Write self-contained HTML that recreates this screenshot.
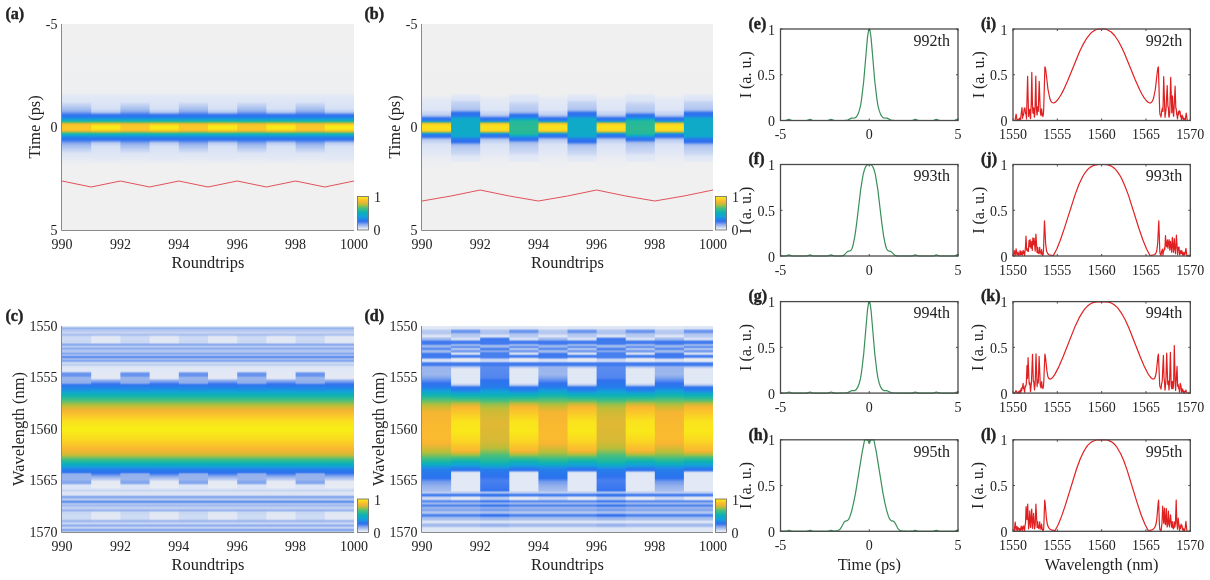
<!DOCTYPE html>
<html><head><meta charset="utf-8"><style>
html,body{margin:0;padding:0;background:#fff;}
svg{display:block;font-family:'Liberation Serif', serif;filter:blur(0.35px);}
</style></head><body>
<svg width="1210" height="580" viewBox="0 0 1210 580">
<defs><linearGradient id="g1" x1="0" y1="0" x2="0" y2="1"><stop offset="0.0024" stop-color="#f0f0f0"/><stop offset="0.3325" stop-color="#eeeff1"/><stop offset="0.3519" stop-color="#e2e8f5"/><stop offset="0.4102" stop-color="#d7e1f5"/><stop offset="0.4248" stop-color="#bccef1"/><stop offset="0.4296" stop-color="#a3bcef"/><stop offset="0.4393" stop-color="#4e84ef"/><stop offset="0.4442" stop-color="#3275ef"/><stop offset="0.4490" stop-color="#2977ed"/><stop offset="0.4587" stop-color="#1b93e1"/><stop offset="0.4636" stop-color="#12a3d2"/><stop offset="0.4684" stop-color="#13aeba"/><stop offset="0.4733" stop-color="#35b893"/><stop offset="0.4782" stop-color="#84bd5d"/><stop offset="0.4830" stop-color="#d6be37"/><stop offset="0.4879" stop-color="#f6cd27"/><stop offset="0.4927" stop-color="#f9e11d"/><stop offset="0.5024" stop-color="#f8ed16"/><stop offset="0.5121" stop-color="#f9e11d"/><stop offset="0.5170" stop-color="#f6cd27"/><stop offset="0.5218" stop-color="#d6be37"/><stop offset="0.5267" stop-color="#84bd5d"/><stop offset="0.5316" stop-color="#35b893"/><stop offset="0.5364" stop-color="#13aeba"/><stop offset="0.5413" stop-color="#12a3d2"/><stop offset="0.5510" stop-color="#2481e9"/><stop offset="0.5558" stop-color="#2977ed"/><stop offset="0.5607" stop-color="#3275ef"/><stop offset="0.5655" stop-color="#4e84ef"/><stop offset="0.5752" stop-color="#a3bcef"/><stop offset="0.5801" stop-color="#bccef1"/><stop offset="0.5947" stop-color="#d7e1f5"/><stop offset="0.6626" stop-color="#e5eaf4"/><stop offset="0.6820" stop-color="#f0f0f0"/><stop offset="0.9976" stop-color="#f0f0f0"/></linearGradient><linearGradient id="g2" x1="0" y1="0" x2="0" y2="1"><stop offset="0.0024" stop-color="#f0f0f0"/><stop offset="0.3325" stop-color="#eeeff1"/><stop offset="0.3519" stop-color="#e2e8f5"/><stop offset="0.3762" stop-color="#dce5f6"/><stop offset="0.4150" stop-color="#a3bcee"/><stop offset="0.4248" stop-color="#89aaed"/><stop offset="0.4393" stop-color="#407bef"/><stop offset="0.4442" stop-color="#2f74ef"/><stop offset="0.4539" stop-color="#2481e9"/><stop offset="0.4636" stop-color="#12a3d2"/><stop offset="0.4684" stop-color="#13aebb"/><stop offset="0.4733" stop-color="#2eb898"/><stop offset="0.4782" stop-color="#75bd66"/><stop offset="0.4830" stop-color="#cabb3d"/><stop offset="0.4879" stop-color="#f3be2f"/><stop offset="0.4976" stop-color="#fac928"/><stop offset="0.5121" stop-color="#fac52a"/><stop offset="0.5170" stop-color="#f3be2f"/><stop offset="0.5218" stop-color="#cabb3d"/><stop offset="0.5267" stop-color="#75bd66"/><stop offset="0.5316" stop-color="#2eb898"/><stop offset="0.5364" stop-color="#13aebb"/><stop offset="0.5413" stop-color="#12a3d2"/><stop offset="0.5510" stop-color="#2481e9"/><stop offset="0.5607" stop-color="#2f74ef"/><stop offset="0.5655" stop-color="#407bef"/><stop offset="0.5801" stop-color="#89aaed"/><stop offset="0.5898" stop-color="#a3bcee"/><stop offset="0.6286" stop-color="#dce5f6"/><stop offset="0.6675" stop-color="#eaedf2"/><stop offset="0.6917" stop-color="#f0f0f0"/><stop offset="0.9976" stop-color="#f0f0f0"/></linearGradient><linearGradient id="g3" x1="0" y1="0" x2="0" y2="1"><stop offset="0.0024" stop-color="#f0f0f0"/><stop offset="0.3422" stop-color="#efeff0"/><stop offset="0.3665" stop-color="#e4e9f4"/><stop offset="0.4150" stop-color="#dde5f6"/><stop offset="0.4345" stop-color="#c7d5f3"/><stop offset="0.4393" stop-color="#bdcef1"/><stop offset="0.4442" stop-color="#a9c0ef"/><stop offset="0.4490" stop-color="#84a7ee"/><stop offset="0.4539" stop-color="#5689ee"/><stop offset="0.4587" stop-color="#3476ef"/><stop offset="0.4636" stop-color="#2977ed"/><stop offset="0.4684" stop-color="#2383e6"/><stop offset="0.4733" stop-color="#289fc3"/><stop offset="0.4782" stop-color="#77b773"/><stop offset="0.4830" stop-color="#dcc237"/><stop offset="0.4879" stop-color="#f8d225"/><stop offset="0.4976" stop-color="#fae21d"/><stop offset="0.5121" stop-color="#fadd20"/><stop offset="0.5170" stop-color="#f8d225"/><stop offset="0.5218" stop-color="#dcc237"/><stop offset="0.5267" stop-color="#77b773"/><stop offset="0.5316" stop-color="#289fc3"/><stop offset="0.5364" stop-color="#2383e6"/><stop offset="0.5413" stop-color="#2977ed"/><stop offset="0.5461" stop-color="#3476ef"/><stop offset="0.5510" stop-color="#5689ee"/><stop offset="0.5558" stop-color="#84a7ee"/><stop offset="0.5607" stop-color="#a9c0ef"/><stop offset="0.5655" stop-color="#bdcef1"/><stop offset="0.5850" stop-color="#dae3f5"/><stop offset="0.6335" stop-color="#e4e9f4"/><stop offset="0.6578" stop-color="#ebedf2"/><stop offset="0.7063" stop-color="#f0f0f0"/><stop offset="0.9976" stop-color="#f0f0f0"/></linearGradient><linearGradient id="g4" x1="0" y1="0" x2="0" y2="1"><stop offset="0.0024" stop-color="#f0f0f0"/><stop offset="0.3325" stop-color="#efeff0"/><stop offset="0.3519" stop-color="#e0e7f5"/><stop offset="0.3665" stop-color="#dce4f6"/><stop offset="0.3811" stop-color="#c5d4f3"/><stop offset="0.4102" stop-color="#b3c7f0"/><stop offset="0.4150" stop-color="#a8bfef"/><stop offset="0.4199" stop-color="#93b1ed"/><stop offset="0.4296" stop-color="#427cef"/><stop offset="0.4345" stop-color="#2e71ef"/><stop offset="0.4442" stop-color="#2977ed"/><stop offset="0.4587" stop-color="#12a4d3"/><stop offset="0.4684" stop-color="#0faac7"/><stop offset="0.5364" stop-color="#0faac7"/><stop offset="0.5461" stop-color="#12a4d3"/><stop offset="0.5607" stop-color="#2977ed"/><stop offset="0.5704" stop-color="#2e71ef"/><stop offset="0.5752" stop-color="#427cef"/><stop offset="0.5850" stop-color="#93b1ed"/><stop offset="0.5898" stop-color="#a8bfef"/><stop offset="0.5995" stop-color="#b7caf1"/><stop offset="0.6286" stop-color="#cad8f3"/><stop offset="0.6432" stop-color="#dfe6f6"/><stop offset="0.6626" stop-color="#e4e9f4"/><stop offset="0.6772" stop-color="#f0f0f0"/><stop offset="0.9976" stop-color="#f0f0f0"/></linearGradient><linearGradient id="g5" x1="0" y1="0" x2="0" y2="1"><stop offset="0.0024" stop-color="#f0f0f0"/><stop offset="0.3325" stop-color="#efeff0"/><stop offset="0.3519" stop-color="#e0e7f5"/><stop offset="0.3714" stop-color="#dce5f6"/><stop offset="0.3908" stop-color="#c4d3f2"/><stop offset="0.4199" stop-color="#b3c7f0"/><stop offset="0.4248" stop-color="#a9c0ef"/><stop offset="0.4296" stop-color="#95b2ed"/><stop offset="0.4393" stop-color="#447eef"/><stop offset="0.4442" stop-color="#2d74ee"/><stop offset="0.4539" stop-color="#2284e8"/><stop offset="0.4587" stop-color="#1799da"/><stop offset="0.4636" stop-color="#11aac4"/><stop offset="0.4684" stop-color="#18b4ab"/><stop offset="0.4733" stop-color="#24b89c"/><stop offset="0.5073" stop-color="#2dba93"/><stop offset="0.5316" stop-color="#24b89c"/><stop offset="0.5364" stop-color="#18b4ab"/><stop offset="0.5413" stop-color="#11aac4"/><stop offset="0.5461" stop-color="#1799da"/><stop offset="0.5510" stop-color="#2284e8"/><stop offset="0.5607" stop-color="#2d74ee"/><stop offset="0.5655" stop-color="#447eef"/><stop offset="0.5752" stop-color="#95b2ed"/><stop offset="0.5801" stop-color="#a9c0ef"/><stop offset="0.5898" stop-color="#b7caf1"/><stop offset="0.6238" stop-color="#cdd9f4"/><stop offset="0.6383" stop-color="#dfe6f6"/><stop offset="0.6626" stop-color="#e4e9f4"/><stop offset="0.6772" stop-color="#f0f0f0"/><stop offset="0.9976" stop-color="#f0f0f0"/></linearGradient><linearGradient id="g6" x1="0" y1="0" x2="0" y2="1"><stop offset="0.0024" stop-color="#dde4f3"/><stop offset="0.0073" stop-color="#b0c5f0"/><stop offset="0.0121" stop-color="#98b4ef"/><stop offset="0.0170" stop-color="#adc3f0"/><stop offset="0.0316" stop-color="#c4d3f2"/><stop offset="0.0364" stop-color="#becff1"/><stop offset="0.0413" stop-color="#aac1ef"/><stop offset="0.0461" stop-color="#b1c5f0"/><stop offset="0.0510" stop-color="#c6d5f3"/><stop offset="0.0607" stop-color="#cedbf4"/><stop offset="0.0801" stop-color="#c9d7f3"/><stop offset="0.0898" stop-color="#88aaee"/><stop offset="0.0947" stop-color="#9bb6ef"/><stop offset="0.0995" stop-color="#b7caf1"/><stop offset="0.1044" stop-color="#a6beef"/><stop offset="0.1092" stop-color="#8dadee"/><stop offset="0.1189" stop-color="#b1c6f0"/><stop offset="0.1238" stop-color="#b2c7f0"/><stop offset="0.1286" stop-color="#9fbaef"/><stop offset="0.1335" stop-color="#83a6ee"/><stop offset="0.1383" stop-color="#99b6ef"/><stop offset="0.1432" stop-color="#9eb9f0"/><stop offset="0.1481" stop-color="#6895ef"/><stop offset="0.1529" stop-color="#6391ef"/><stop offset="0.1578" stop-color="#94b2ef"/><stop offset="0.1626" stop-color="#9eb8ee"/><stop offset="0.1675" stop-color="#83a6ee"/><stop offset="0.1723" stop-color="#94b2ef"/><stop offset="0.1772" stop-color="#c1d1f2"/><stop offset="0.1820" stop-color="#cad8f3"/><stop offset="0.1869" stop-color="#c0d0f2"/><stop offset="0.1917" stop-color="#c5d4f2"/><stop offset="0.1966" stop-color="#d9e2f5"/><stop offset="0.2063" stop-color="#e0e7f5"/><stop offset="0.2160" stop-color="#dfe6f5"/><stop offset="0.2209" stop-color="#cfdbf4"/><stop offset="0.2257" stop-color="#98b5f0"/><stop offset="0.2306" stop-color="#6e98ee"/><stop offset="0.2354" stop-color="#6693ee"/><stop offset="0.2403" stop-color="#6995ee"/><stop offset="0.2451" stop-color="#7aa0ed"/><stop offset="0.2500" stop-color="#93b1ed"/><stop offset="0.2549" stop-color="#9bb6ed"/><stop offset="0.2743" stop-color="#91afec"/><stop offset="0.2791" stop-color="#749ced"/><stop offset="0.2840" stop-color="#4781ee"/><stop offset="0.2888" stop-color="#2d77ee"/><stop offset="0.3083" stop-color="#1c8fe4"/><stop offset="0.3228" stop-color="#11a6cf"/><stop offset="0.3374" stop-color="#0fb2b1"/><stop offset="0.3617" stop-color="#4bbf7b"/><stop offset="0.3811" stop-color="#a7be42"/><stop offset="0.3908" stop-color="#c6bc36"/><stop offset="0.4102" stop-color="#f4b532"/><stop offset="0.4296" stop-color="#fac22c"/><stop offset="0.4636" stop-color="#fae01f"/><stop offset="0.5024" stop-color="#f8ef15"/><stop offset="0.5510" stop-color="#fad921"/><stop offset="0.5947" stop-color="#fab830"/><stop offset="0.6141" stop-color="#e4b734"/><stop offset="0.6238" stop-color="#cfbb36"/><stop offset="0.6286" stop-color="#bbbd3a"/><stop offset="0.6383" stop-color="#80bf5a"/><stop offset="0.6481" stop-color="#43be82"/><stop offset="0.6626" stop-color="#16b5a9"/><stop offset="0.6723" stop-color="#0dadc0"/><stop offset="0.6869" stop-color="#1799df"/><stop offset="0.6966" stop-color="#257fea"/><stop offset="0.7063" stop-color="#2a77ed"/><stop offset="0.7112" stop-color="#3b7dee"/><stop offset="0.7160" stop-color="#729ced"/><stop offset="0.7209" stop-color="#93b0ec"/><stop offset="0.7451" stop-color="#9ab5ed"/><stop offset="0.7549" stop-color="#84a7ed"/><stop offset="0.7597" stop-color="#83a6ed"/><stop offset="0.7646" stop-color="#90afee"/><stop offset="0.7694" stop-color="#bdcff2"/><stop offset="0.7743" stop-color="#dbe4f6"/><stop offset="0.7888" stop-color="#dce5f6"/><stop offset="0.7985" stop-color="#c7d5f3"/><stop offset="0.8083" stop-color="#dde5f5"/><stop offset="0.8180" stop-color="#dce4f5"/><stop offset="0.8228" stop-color="#becff2"/><stop offset="0.8277" stop-color="#8dadee"/><stop offset="0.8325" stop-color="#87a9ee"/><stop offset="0.8374" stop-color="#a9c0f0"/><stop offset="0.8422" stop-color="#b8cbf1"/><stop offset="0.8471" stop-color="#93b2ef"/><stop offset="0.8519" stop-color="#6593ee"/><stop offset="0.8568" stop-color="#739cee"/><stop offset="0.8617" stop-color="#a6bef0"/><stop offset="0.8665" stop-color="#aec4f0"/><stop offset="0.8714" stop-color="#a2bbee"/><stop offset="0.8811" stop-color="#c0d0f2"/><stop offset="0.8859" stop-color="#becff2"/><stop offset="0.8956" stop-color="#97b3ed"/><stop offset="0.9053" stop-color="#c8d6f3"/><stop offset="0.9199" stop-color="#cedbf4"/><stop offset="0.9345" stop-color="#cddaf4"/><stop offset="0.9393" stop-color="#bfd0f2"/><stop offset="0.9442" stop-color="#a5bdee"/><stop offset="0.9490" stop-color="#a2bbee"/><stop offset="0.9539" stop-color="#baccf1"/><stop offset="0.9587" stop-color="#c8d6f3"/><stop offset="0.9684" stop-color="#8eadee"/><stop offset="0.9733" stop-color="#a6bef0"/><stop offset="0.9782" stop-color="#c5d4f3"/><stop offset="0.9830" stop-color="#b6c9f2"/><stop offset="0.9879" stop-color="#87a9ef"/><stop offset="0.9927" stop-color="#8aabee"/><stop offset="0.9976" stop-color="#b3c7f1"/></linearGradient><linearGradient id="g7" x1="0" y1="0" x2="0" y2="1"><stop offset="0.0024" stop-color="#dde4f3"/><stop offset="0.0073" stop-color="#b0c5f0"/><stop offset="0.0121" stop-color="#98b4ef"/><stop offset="0.0170" stop-color="#adc3f0"/><stop offset="0.0316" stop-color="#c4d3f2"/><stop offset="0.0364" stop-color="#becff2"/><stop offset="0.0413" stop-color="#abc1ef"/><stop offset="0.0461" stop-color="#b9cbf0"/><stop offset="0.0510" stop-color="#d8e1f4"/><stop offset="0.0558" stop-color="#e2e8f4"/><stop offset="0.0752" stop-color="#e3e9f4"/><stop offset="0.0801" stop-color="#dde4f4"/><stop offset="0.0898" stop-color="#8babee"/><stop offset="0.0947" stop-color="#9bb6ef"/><stop offset="0.0995" stop-color="#b7caf1"/><stop offset="0.1044" stop-color="#a6beef"/><stop offset="0.1092" stop-color="#8dadee"/><stop offset="0.1189" stop-color="#b1c6f0"/><stop offset="0.1238" stop-color="#b2c7f0"/><stop offset="0.1286" stop-color="#9fbaef"/><stop offset="0.1335" stop-color="#83a6ee"/><stop offset="0.1383" stop-color="#99b6ef"/><stop offset="0.1432" stop-color="#9eb9f0"/><stop offset="0.1481" stop-color="#6895ef"/><stop offset="0.1529" stop-color="#6391ef"/><stop offset="0.1578" stop-color="#94b2ef"/><stop offset="0.1626" stop-color="#9eb8ee"/><stop offset="0.1675" stop-color="#83a6ee"/><stop offset="0.1723" stop-color="#94b2ef"/><stop offset="0.1772" stop-color="#c1d1f2"/><stop offset="0.1820" stop-color="#cad8f3"/><stop offset="0.1869" stop-color="#c0d0f2"/><stop offset="0.1917" stop-color="#c5d4f2"/><stop offset="0.1966" stop-color="#d9e2f5"/><stop offset="0.2063" stop-color="#e0e7f5"/><stop offset="0.2500" stop-color="#e4e9f4"/><stop offset="0.2549" stop-color="#dae2f3"/><stop offset="0.2646" stop-color="#95b2ed"/><stop offset="0.2791" stop-color="#487fef"/><stop offset="0.2840" stop-color="#3475ef"/><stop offset="0.2937" stop-color="#277aec"/><stop offset="0.3180" stop-color="#13a1d9"/><stop offset="0.3374" stop-color="#0fb2b1"/><stop offset="0.3617" stop-color="#4bbf7b"/><stop offset="0.3811" stop-color="#a7be42"/><stop offset="0.3908" stop-color="#c6bc36"/><stop offset="0.4102" stop-color="#f4b532"/><stop offset="0.4296" stop-color="#fac22c"/><stop offset="0.4636" stop-color="#fae01f"/><stop offset="0.5024" stop-color="#f8ef15"/><stop offset="0.5510" stop-color="#fad921"/><stop offset="0.5947" stop-color="#fab830"/><stop offset="0.6141" stop-color="#e4b734"/><stop offset="0.6238" stop-color="#cfbb36"/><stop offset="0.6286" stop-color="#bbbd3a"/><stop offset="0.6383" stop-color="#80bf5a"/><stop offset="0.6481" stop-color="#43be82"/><stop offset="0.6626" stop-color="#16b5a9"/><stop offset="0.6723" stop-color="#0dadc0"/><stop offset="0.6869" stop-color="#1799df"/><stop offset="0.6966" stop-color="#257fea"/><stop offset="0.7112" stop-color="#2c74ee"/><stop offset="0.7160" stop-color="#3b79ef"/><stop offset="0.7306" stop-color="#8cabed"/><stop offset="0.7403" stop-color="#aec3ef"/><stop offset="0.7451" stop-color="#baccf1"/><stop offset="0.7549" stop-color="#e5e9f3"/><stop offset="0.7840" stop-color="#e7ebf3"/><stop offset="0.7937" stop-color="#d3def4"/><stop offset="0.7985" stop-color="#c7d5f3"/><stop offset="0.8083" stop-color="#dde5f5"/><stop offset="0.8180" stop-color="#dce4f5"/><stop offset="0.8228" stop-color="#becff2"/><stop offset="0.8277" stop-color="#8dadee"/><stop offset="0.8325" stop-color="#87a9ee"/><stop offset="0.8374" stop-color="#a9c0f0"/><stop offset="0.8422" stop-color="#b8cbf1"/><stop offset="0.8471" stop-color="#93b2ef"/><stop offset="0.8519" stop-color="#6593ee"/><stop offset="0.8568" stop-color="#739cee"/><stop offset="0.8617" stop-color="#a6bef0"/><stop offset="0.8665" stop-color="#aec4f0"/><stop offset="0.8714" stop-color="#a2bbee"/><stop offset="0.8811" stop-color="#c0d0f2"/><stop offset="0.8859" stop-color="#becff2"/><stop offset="0.8956" stop-color="#99b5ee"/><stop offset="0.9053" stop-color="#dce4f4"/><stop offset="0.9150" stop-color="#e3e9f4"/><stop offset="0.9345" stop-color="#e1e8f4"/><stop offset="0.9393" stop-color="#cfdaf3"/><stop offset="0.9442" stop-color="#aac1ef"/><stop offset="0.9490" stop-color="#a3bbee"/><stop offset="0.9539" stop-color="#baccf1"/><stop offset="0.9587" stop-color="#c8d6f3"/><stop offset="0.9684" stop-color="#8eadee"/><stop offset="0.9733" stop-color="#a6bef0"/><stop offset="0.9782" stop-color="#c5d4f3"/><stop offset="0.9830" stop-color="#b6c9f2"/><stop offset="0.9879" stop-color="#87a9ef"/><stop offset="0.9927" stop-color="#8aabee"/><stop offset="0.9976" stop-color="#b3c7f1"/></linearGradient><linearGradient id="g8" x1="0" y1="0" x2="0" y2="1"><stop offset="0.0024" stop-color="#e3e9f4"/><stop offset="0.0121" stop-color="#e0e7f4"/><stop offset="0.0218" stop-color="#baccf1"/><stop offset="0.0316" stop-color="#b4c8f0"/><stop offset="0.0364" stop-color="#b7c9f1"/><stop offset="0.0461" stop-color="#dae3f5"/><stop offset="0.0510" stop-color="#dce4f5"/><stop offset="0.0607" stop-color="#a8bfee"/><stop offset="0.0655" stop-color="#99b4ed"/><stop offset="0.0752" stop-color="#467eef"/><stop offset="0.0801" stop-color="#3e79ef"/><stop offset="0.0850" stop-color="#417bef"/><stop offset="0.0898" stop-color="#608fee"/><stop offset="0.0947" stop-color="#90afee"/><stop offset="0.0995" stop-color="#9cb7ed"/><stop offset="0.1044" stop-color="#81a5ee"/><stop offset="0.1092" stop-color="#5c8dee"/><stop offset="0.1141" stop-color="#6693ee"/><stop offset="0.1189" stop-color="#92b0ee"/><stop offset="0.1238" stop-color="#a2bbee"/><stop offset="0.1286" stop-color="#84a7ee"/><stop offset="0.1335" stop-color="#5085ef"/><stop offset="0.1383" stop-color="#3e79ef"/><stop offset="0.1481" stop-color="#3d79ef"/><stop offset="0.1529" stop-color="#4980ef"/><stop offset="0.1626" stop-color="#cbd9f4"/><stop offset="0.1675" stop-color="#d9e3f5"/><stop offset="0.1723" stop-color="#c2d2f4"/><stop offset="0.1772" stop-color="#769ef0"/><stop offset="0.1820" stop-color="#447def"/><stop offset="0.1869" stop-color="#3f7aef"/><stop offset="0.1917" stop-color="#5286ef"/><stop offset="0.1966" stop-color="#81a5ed"/><stop offset="0.2015" stop-color="#9ab5ed"/><stop offset="0.2354" stop-color="#9cb7ed"/><stop offset="0.2500" stop-color="#83a6ed"/><stop offset="0.2694" stop-color="#4d83ef"/><stop offset="0.2791" stop-color="#3072ef"/><stop offset="0.2985" stop-color="#257deb"/><stop offset="0.3131" stop-color="#159edb"/><stop offset="0.3325" stop-color="#0db1b6"/><stop offset="0.3422" stop-color="#1fb7a1"/><stop offset="0.3617" stop-color="#5cc070"/><stop offset="0.3811" stop-color="#aebe3e"/><stop offset="0.3956" stop-color="#d1ba35"/><stop offset="0.4199" stop-color="#f6b532"/><stop offset="0.5364" stop-color="#fabb2f"/><stop offset="0.5704" stop-color="#f8b532"/><stop offset="0.6092" stop-color="#bfbd37"/><stop offset="0.6238" stop-color="#90bf50"/><stop offset="0.6432" stop-color="#41be82"/><stop offset="0.6626" stop-color="#13b4ac"/><stop offset="0.6723" stop-color="#0dacc2"/><stop offset="0.6869" stop-color="#1b92e3"/><stop offset="0.6966" stop-color="#257eea"/><stop offset="0.7354" stop-color="#2b73ee"/><stop offset="0.7403" stop-color="#3074ef"/><stop offset="0.7549" stop-color="#719aed"/><stop offset="0.7791" stop-color="#97b3ec"/><stop offset="0.7985" stop-color="#a6bdee"/><stop offset="0.8034" stop-color="#b3c7f0"/><stop offset="0.8083" stop-color="#b9cbf1"/><stop offset="0.8131" stop-color="#8faff0"/><stop offset="0.8180" stop-color="#5185ef"/><stop offset="0.8228" stop-color="#4980ef"/><stop offset="0.8325" stop-color="#c0d0f3"/><stop offset="0.8374" stop-color="#cdd9f4"/><stop offset="0.8422" stop-color="#b8cbf2"/><stop offset="0.8471" stop-color="#779ff0"/><stop offset="0.8519" stop-color="#5a8bef"/><stop offset="0.8568" stop-color="#82a6ee"/><stop offset="0.8617" stop-color="#9bb6ee"/><stop offset="0.8714" stop-color="#5387ef"/><stop offset="0.8762" stop-color="#6a96ee"/><stop offset="0.8811" stop-color="#94b1ed"/><stop offset="0.8859" stop-color="#97b3ed"/><stop offset="0.8908" stop-color="#85a7ed"/><stop offset="0.8956" stop-color="#8aaaed"/><stop offset="0.9005" stop-color="#a6beef"/><stop offset="0.9053" stop-color="#b1c6f0"/><stop offset="0.9102" stop-color="#9ab6ef"/><stop offset="0.9150" stop-color="#6291ef"/><stop offset="0.9199" stop-color="#4c82ef"/><stop offset="0.9248" stop-color="#6895ee"/><stop offset="0.9296" stop-color="#97b4ee"/><stop offset="0.9345" stop-color="#a7beee"/><stop offset="0.9393" stop-color="#acc2ef"/><stop offset="0.9490" stop-color="#dbe3f5"/><stop offset="0.9539" stop-color="#d9e2f5"/><stop offset="0.9636" stop-color="#a5bdee"/><stop offset="0.9684" stop-color="#a2bbee"/><stop offset="0.9733" stop-color="#b1c5f0"/><stop offset="0.9782" stop-color="#d0dcf4"/><stop offset="0.9830" stop-color="#dfe6f5"/><stop offset="0.9976" stop-color="#e0e7f5"/></linearGradient><linearGradient id="g9" x1="0" y1="0" x2="0" y2="1"><stop offset="0.0024" stop-color="#e0e7f5"/><stop offset="0.0121" stop-color="#d8e2f5"/><stop offset="0.0170" stop-color="#acc3f1"/><stop offset="0.0218" stop-color="#769eee"/><stop offset="0.0267" stop-color="#6995ee"/><stop offset="0.0316" stop-color="#769dee"/><stop offset="0.0364" stop-color="#9bb7ef"/><stop offset="0.0413" stop-color="#b2c6f0"/><stop offset="0.0510" stop-color="#b7caf1"/><stop offset="0.0607" stop-color="#d7e1f5"/><stop offset="0.0655" stop-color="#cedbf4"/><stop offset="0.0752" stop-color="#4c82ef"/><stop offset="0.0801" stop-color="#3f7aef"/><stop offset="0.0850" stop-color="#5286ef"/><stop offset="0.0898" stop-color="#8bacef"/><stop offset="0.0947" stop-color="#98b4ef"/><stop offset="0.0995" stop-color="#6b97ee"/><stop offset="0.1044" stop-color="#6f99ef"/><stop offset="0.1092" stop-color="#a4bdf0"/><stop offset="0.1141" stop-color="#aac1f0"/><stop offset="0.1189" stop-color="#80a4ee"/><stop offset="0.1238" stop-color="#769eee"/><stop offset="0.1335" stop-color="#d7e0f3"/><stop offset="0.1383" stop-color="#b0c6f2"/><stop offset="0.1432" stop-color="#5d8df0"/><stop offset="0.1481" stop-color="#447def"/><stop offset="0.1529" stop-color="#739df0"/><stop offset="0.1578" stop-color="#c9d6f2"/><stop offset="0.1626" stop-color="#e8ebf2"/><stop offset="0.1675" stop-color="#e8ecf2"/><stop offset="0.1723" stop-color="#cfdbf2"/><stop offset="0.1772" stop-color="#7da3f0"/><stop offset="0.1820" stop-color="#457eef"/><stop offset="0.1869" stop-color="#3f7aef"/><stop offset="0.1917" stop-color="#5689ef"/><stop offset="0.1966" stop-color="#91b0ef"/><stop offset="0.2015" stop-color="#bdcff2"/><stop offset="0.2063" stop-color="#d5dff4"/><stop offset="0.2112" stop-color="#e1e8f4"/><stop offset="0.2743" stop-color="#e0e7f5"/><stop offset="0.2791" stop-color="#d6e0f4"/><stop offset="0.2840" stop-color="#c1d1f2"/><stop offset="0.2888" stop-color="#9bb7ef"/><stop offset="0.2937" stop-color="#5c8eee"/><stop offset="0.2985" stop-color="#3278ee"/><stop offset="0.3083" stop-color="#277aec"/><stop offset="0.3180" stop-color="#1c90e3"/><stop offset="0.3277" stop-color="#10a7cc"/><stop offset="0.3374" stop-color="#0eb1b6"/><stop offset="0.3519" stop-color="#31bb90"/><stop offset="0.3568" stop-color="#41be83"/><stop offset="0.3617" stop-color="#59bf72"/><stop offset="0.3762" stop-color="#b9bd3b"/><stop offset="0.3908" stop-color="#f2b632"/><stop offset="0.4005" stop-color="#fabb2f"/><stop offset="0.4636" stop-color="#fae31d"/><stop offset="0.5121" stop-color="#f9e819"/><stop offset="0.5558" stop-color="#fad822"/><stop offset="0.6044" stop-color="#f9b731"/><stop offset="0.6092" stop-color="#f0b632"/><stop offset="0.6189" stop-color="#c7bc37"/><stop offset="0.6238" stop-color="#acbe41"/><stop offset="0.6383" stop-color="#4bbf7b"/><stop offset="0.6529" stop-color="#19b5a6"/><stop offset="0.6578" stop-color="#0fb2b3"/><stop offset="0.6772" stop-color="#14a0da"/><stop offset="0.6917" stop-color="#267ceb"/><stop offset="0.6966" stop-color="#2b76ed"/><stop offset="0.7015" stop-color="#427fef"/><stop offset="0.7112" stop-color="#d1dcf3"/><stop offset="0.7160" stop-color="#e1e8f5"/><stop offset="0.7985" stop-color="#e2e8f4"/><stop offset="0.8083" stop-color="#becff2"/><stop offset="0.8131" stop-color="#8faff0"/><stop offset="0.8180" stop-color="#5185ef"/><stop offset="0.8228" stop-color="#4b82ef"/><stop offset="0.8325" stop-color="#d9e1f2"/><stop offset="0.8374" stop-color="#e8ebf2"/><stop offset="0.8422" stop-color="#d1dcf2"/><stop offset="0.8471" stop-color="#83a7f0"/><stop offset="0.8519" stop-color="#5b8cef"/><stop offset="0.8568" stop-color="#82a6ee"/><stop offset="0.8617" stop-color="#9bb6ee"/><stop offset="0.8714" stop-color="#5387ef"/><stop offset="0.8762" stop-color="#6a96ee"/><stop offset="0.8811" stop-color="#94b1ed"/><stop offset="0.8859" stop-color="#97b3ed"/><stop offset="0.8908" stop-color="#85a7ed"/><stop offset="0.8956" stop-color="#8aaaed"/><stop offset="0.9005" stop-color="#a6beef"/><stop offset="0.9053" stop-color="#b1c6f0"/><stop offset="0.9102" stop-color="#9ab6ef"/><stop offset="0.9150" stop-color="#6291ef"/><stop offset="0.9199" stop-color="#4c82ef"/><stop offset="0.9248" stop-color="#6895ee"/><stop offset="0.9296" stop-color="#97b4ee"/><stop offset="0.9345" stop-color="#a7beee"/><stop offset="0.9393" stop-color="#acc2ef"/><stop offset="0.9490" stop-color="#dbe3f5"/><stop offset="0.9539" stop-color="#d9e2f5"/><stop offset="0.9636" stop-color="#a5bdee"/><stop offset="0.9684" stop-color="#a2bbee"/><stop offset="0.9733" stop-color="#b1c5f0"/><stop offset="0.9782" stop-color="#d0dcf4"/><stop offset="0.9830" stop-color="#dfe6f5"/><stop offset="0.9976" stop-color="#e0e7f5"/></linearGradient><linearGradient id="g10" x1="0" y1="0" x2="0" y2="1"><stop offset="0.0024" stop-color="#e0e7f5"/><stop offset="0.0121" stop-color="#dde5f5"/><stop offset="0.0218" stop-color="#b3c7f0"/><stop offset="0.0316" stop-color="#aec3ef"/><stop offset="0.0364" stop-color="#b0c5f0"/><stop offset="0.0461" stop-color="#d9e2f5"/><stop offset="0.0510" stop-color="#d6e0f5"/><stop offset="0.0558" stop-color="#9ab7f2"/><stop offset="0.0607" stop-color="#5085ef"/><stop offset="0.0655" stop-color="#3e79ef"/><stop offset="0.0850" stop-color="#417bef"/><stop offset="0.0898" stop-color="#6391ef"/><stop offset="0.0947" stop-color="#96b3ee"/><stop offset="0.0995" stop-color="#a2bbee"/><stop offset="0.1044" stop-color="#82a6ee"/><stop offset="0.1092" stop-color="#5487ef"/><stop offset="0.1141" stop-color="#4f84ef"/><stop offset="0.1189" stop-color="#729bee"/><stop offset="0.1238" stop-color="#83a6ed"/><stop offset="0.1286" stop-color="#5d8dee"/><stop offset="0.1335" stop-color="#487fef"/><stop offset="0.1481" stop-color="#467eef"/><stop offset="0.1529" stop-color="#5085ef"/><stop offset="0.1626" stop-color="#c0d1f3"/><stop offset="0.1675" stop-color="#cdd9f4"/><stop offset="0.1723" stop-color="#b7caf2"/><stop offset="0.1772" stop-color="#719bf0"/><stop offset="0.1820" stop-color="#437cef"/><stop offset="0.1869" stop-color="#3e79ef"/><stop offset="0.1917" stop-color="#447def"/><stop offset="0.2015" stop-color="#5b8cee"/><stop offset="0.2500" stop-color="#5286ef"/><stop offset="0.2646" stop-color="#3072ef"/><stop offset="0.2985" stop-color="#257dea"/><stop offset="0.3180" stop-color="#13a1d9"/><stop offset="0.3374" stop-color="#0db1b6"/><stop offset="0.3568" stop-color="#35bc8d"/><stop offset="0.3665" stop-color="#54bf75"/><stop offset="0.3811" stop-color="#97bf4c"/><stop offset="0.4005" stop-color="#c0bd37"/><stop offset="0.4199" stop-color="#d0ba35"/><stop offset="0.4684" stop-color="#e1b834"/><stop offset="0.5558" stop-color="#d7b935"/><stop offset="0.5898" stop-color="#bebd37"/><stop offset="0.5995" stop-color="#a6be43"/><stop offset="0.6286" stop-color="#48bf7c"/><stop offset="0.6626" stop-color="#16b5aa"/><stop offset="0.6723" stop-color="#0dadbf"/><stop offset="0.6869" stop-color="#179add"/><stop offset="0.6966" stop-color="#257eea"/><stop offset="0.7306" stop-color="#3071f0"/><stop offset="0.7500" stop-color="#4880ef"/><stop offset="0.7888" stop-color="#3b77ef"/><stop offset="0.7937" stop-color="#3372f0"/><stop offset="0.7985" stop-color="#3b79ef"/><stop offset="0.8034" stop-color="#77a0ef"/><stop offset="0.8083" stop-color="#a8c0f0"/><stop offset="0.8131" stop-color="#82a7ef"/><stop offset="0.8180" stop-color="#3f7def"/><stop offset="0.8228" stop-color="#3577ef"/><stop offset="0.8277" stop-color="#6b98ef"/><stop offset="0.8325" stop-color="#abc2f0"/><stop offset="0.8374" stop-color="#b8cbf1"/><stop offset="0.8422" stop-color="#a3bdf0"/><stop offset="0.8471" stop-color="#608fef"/><stop offset="0.8519" stop-color="#437cef"/><stop offset="0.8568" stop-color="#719bee"/><stop offset="0.8617" stop-color="#8eaded"/><stop offset="0.8714" stop-color="#3c78ef"/><stop offset="0.8762" stop-color="#5689ee"/><stop offset="0.8811" stop-color="#86a8ed"/><stop offset="0.8859" stop-color="#89aaec"/><stop offset="0.8908" stop-color="#749ced"/><stop offset="0.8956" stop-color="#79a0ee"/><stop offset="0.9005" stop-color="#9bb6ee"/><stop offset="0.9053" stop-color="#a8bfef"/><stop offset="0.9102" stop-color="#8dadef"/><stop offset="0.9150" stop-color="#4e83ef"/><stop offset="0.9199" stop-color="#3473f0"/><stop offset="0.9248" stop-color="#5487ef"/><stop offset="0.9296" stop-color="#8aabed"/><stop offset="0.9345" stop-color="#9cb7ed"/><stop offset="0.9393" stop-color="#a3bbee"/><stop offset="0.9490" stop-color="#d8e2f5"/><stop offset="0.9539" stop-color="#d6e0f5"/><stop offset="0.9636" stop-color="#9bb6ed"/><stop offset="0.9684" stop-color="#98b3ec"/><stop offset="0.9733" stop-color="#a8bfee"/><stop offset="0.9782" stop-color="#ccd9f4"/><stop offset="0.9830" stop-color="#dde5f6"/><stop offset="0.9976" stop-color="#dee6f6"/></linearGradient><linearGradient id="g11" x1="0" y1="0" x2="0" y2="1"><stop offset="0.0147" stop-color="#f9e919"/><stop offset="0.1324" stop-color="#fabc2e"/><stop offset="0.1618" stop-color="#f5b532"/><stop offset="0.2500" stop-color="#b4be3a"/><stop offset="0.3382" stop-color="#53c075"/><stop offset="0.3676" stop-color="#3ebe84"/><stop offset="0.4853" stop-color="#0ab1b6"/><stop offset="0.6029" stop-color="#13a1dc"/><stop offset="0.7206" stop-color="#2975ed"/><stop offset="0.7500" stop-color="#3774f0"/><stop offset="0.8382" stop-color="#8babec"/><stop offset="0.9559" stop-color="#e0e7f5"/><stop offset="0.9853" stop-color="#ebedf2"/></linearGradient></defs>
<rect width="1210" height="580" fill="#fff"/>
<rect x="62.00" y="24" width="30.20" height="206" fill="url(#g2)"/>
<rect x="91.20" y="24" width="30.20" height="206" fill="url(#g1)"/>
<rect x="120.40" y="24" width="30.20" height="206" fill="url(#g2)"/>
<rect x="149.60" y="24" width="30.20" height="206" fill="url(#g1)"/>
<rect x="178.80" y="24" width="30.20" height="206" fill="url(#g2)"/>
<rect x="208.00" y="24" width="30.20" height="206" fill="url(#g1)"/>
<rect x="237.20" y="24" width="30.20" height="206" fill="url(#g2)"/>
<rect x="266.40" y="24" width="30.20" height="206" fill="url(#g1)"/>
<rect x="295.60" y="24" width="30.20" height="206" fill="url(#g2)"/>
<rect x="324.80" y="24" width="29.20" height="206" fill="url(#g1)"/>
<rect x="422.00" y="24" width="30.10" height="206" fill="url(#g3)"/>
<rect x="451.10" y="24" width="30.10" height="206" fill="url(#g4)"/>
<rect x="480.20" y="24" width="30.10" height="206" fill="url(#g3)"/>
<rect x="509.30" y="24" width="30.10" height="206" fill="url(#g5)"/>
<rect x="538.40" y="24" width="30.10" height="206" fill="url(#g3)"/>
<rect x="567.50" y="24" width="30.10" height="206" fill="url(#g4)"/>
<rect x="596.60" y="24" width="30.10" height="206" fill="url(#g3)"/>
<rect x="625.70" y="24" width="30.10" height="206" fill="url(#g5)"/>
<rect x="654.80" y="24" width="30.10" height="206" fill="url(#g3)"/>
<rect x="683.90" y="24" width="29.10" height="206" fill="url(#g4)"/>
<rect x="62.00" y="326" width="30.20" height="206" fill="url(#g6)"/>
<rect x="91.20" y="326" width="30.20" height="206" fill="url(#g7)"/>
<rect x="120.40" y="326" width="30.20" height="206" fill="url(#g6)"/>
<rect x="149.60" y="326" width="30.20" height="206" fill="url(#g7)"/>
<rect x="178.80" y="326" width="30.20" height="206" fill="url(#g6)"/>
<rect x="208.00" y="326" width="30.20" height="206" fill="url(#g7)"/>
<rect x="237.20" y="326" width="30.20" height="206" fill="url(#g6)"/>
<rect x="266.40" y="326" width="30.20" height="206" fill="url(#g7)"/>
<rect x="295.60" y="326" width="30.20" height="206" fill="url(#g6)"/>
<rect x="324.80" y="326" width="29.20" height="206" fill="url(#g7)"/>
<rect x="422.00" y="326" width="30.10" height="206" fill="url(#g8)"/>
<rect x="451.10" y="326" width="30.10" height="206" fill="url(#g9)"/>
<rect x="480.20" y="326" width="30.10" height="206" fill="url(#g10)"/>
<rect x="509.30" y="326" width="30.10" height="206" fill="url(#g9)"/>
<rect x="538.40" y="326" width="30.10" height="206" fill="url(#g8)"/>
<rect x="567.50" y="326" width="30.10" height="206" fill="url(#g9)"/>
<rect x="596.60" y="326" width="30.10" height="206" fill="url(#g10)"/>
<rect x="625.70" y="326" width="30.10" height="206" fill="url(#g9)"/>
<rect x="654.80" y="326" width="30.10" height="206" fill="url(#g8)"/>
<rect x="683.90" y="326" width="29.10" height="206" fill="url(#g9)"/>
<path d="M61.5 24 V230.5 H354" stroke="#8a8a8a" stroke-width="1" fill="none"/>
<path d="M421.5 24 V230.5 H713" stroke="#8a8a8a" stroke-width="1" fill="none"/>
<path d="M61.5 326 V532.5 H354" stroke="#8a8a8a" stroke-width="1" fill="none"/>
<path d="M421.5 326 V532.5 H713" stroke="#8a8a8a" stroke-width="1" fill="none"/>
<polyline points="62.00,181.00 91.20,187.00 120.40,181.00 149.60,187.00 178.80,181.00 208.00,187.00 237.20,181.00 266.40,187.00 295.60,181.00 324.80,187.00 354.00,181.00" fill="none" stroke="#e0404a" stroke-width="0.9" stroke-linejoin="round"/>
<polyline points="422.00,201.00 451.10,196.00 480.20,190.00 509.30,196.00 538.40,201.00 567.50,196.00 596.60,190.00 625.70,196.00 654.80,201.00 683.90,196.00 713.00,190.00" fill="none" stroke="#e0404a" stroke-width="0.9" stroke-linejoin="round"/>
<rect x="357.5" y="196.5" width="11" height="33.5" fill="url(#g11)" stroke="#666" stroke-width="0.8"/>
<text x="374.0" y="202.1" font-size="14" text-anchor="start" fill="#222222">1</text>
<text x="373.5" y="235.3" font-size="14" text-anchor="start" fill="#222222">0</text>
<rect x="715.5" y="196.5" width="11" height="33.5" fill="url(#g11)" stroke="#666" stroke-width="0.8"/>
<text x="732.0" y="202.1" font-size="14" text-anchor="start" fill="#222222">1</text>
<text x="731.5" y="235.3" font-size="14" text-anchor="start" fill="#222222">0</text>
<rect x="357.5" y="499" width="11" height="33.5" fill="url(#g11)" stroke="#666" stroke-width="0.8"/>
<text x="374.0" y="504.6" font-size="14" text-anchor="start" fill="#222222">1</text>
<text x="373.5" y="537.8" font-size="14" text-anchor="start" fill="#222222">0</text>
<rect x="715.5" y="499" width="11" height="33.5" fill="url(#g11)" stroke="#666" stroke-width="0.8"/>
<text x="732.0" y="504.6" font-size="14" text-anchor="start" fill="#222222">1</text>
<text x="731.5" y="537.8" font-size="14" text-anchor="start" fill="#222222">0</text>
<text x="62.0" y="248.5" font-size="14" text-anchor="middle" fill="#222222">990</text>
<text x="120.4" y="248.5" font-size="14" text-anchor="middle" fill="#222222">992</text>
<text x="178.8" y="248.5" font-size="14" text-anchor="middle" fill="#222222">994</text>
<text x="237.2" y="248.5" font-size="14" text-anchor="middle" fill="#222222">996</text>
<text x="295.6" y="248.5" font-size="14" text-anchor="middle" fill="#222222">998</text>
<text x="354.0" y="248.5" font-size="14" text-anchor="middle" fill="#222222">1000</text>
<text x="422.0" y="248.5" font-size="14" text-anchor="middle" fill="#222222">990</text>
<text x="480.2" y="248.5" font-size="14" text-anchor="middle" fill="#222222">992</text>
<text x="538.4" y="248.5" font-size="14" text-anchor="middle" fill="#222222">994</text>
<text x="596.6" y="248.5" font-size="14" text-anchor="middle" fill="#222222">996</text>
<text x="654.8" y="248.5" font-size="14" text-anchor="middle" fill="#222222">998</text>
<text x="713.0" y="248.5" font-size="14" text-anchor="middle" fill="#222222">1000</text>
<text x="62.0" y="550.5" font-size="14" text-anchor="middle" fill="#222222">990</text>
<text x="120.4" y="550.5" font-size="14" text-anchor="middle" fill="#222222">992</text>
<text x="178.8" y="550.5" font-size="14" text-anchor="middle" fill="#222222">994</text>
<text x="237.2" y="550.5" font-size="14" text-anchor="middle" fill="#222222">996</text>
<text x="295.6" y="550.5" font-size="14" text-anchor="middle" fill="#222222">998</text>
<text x="354.0" y="550.5" font-size="14" text-anchor="middle" fill="#222222">1000</text>
<text x="422.0" y="550.5" font-size="14" text-anchor="middle" fill="#222222">990</text>
<text x="480.2" y="550.5" font-size="14" text-anchor="middle" fill="#222222">992</text>
<text x="538.4" y="550.5" font-size="14" text-anchor="middle" fill="#222222">994</text>
<text x="596.6" y="550.5" font-size="14" text-anchor="middle" fill="#222222">996</text>
<text x="654.8" y="550.5" font-size="14" text-anchor="middle" fill="#222222">998</text>
<text x="713.0" y="550.5" font-size="14" text-anchor="middle" fill="#222222">1000</text>
<text x="57.5" y="28.8" font-size="14" text-anchor="end" fill="#222222">-5</text>
<text x="57.5" y="131.8" font-size="14" text-anchor="end" fill="#222222">0</text>
<text x="57.5" y="234.8" font-size="14" text-anchor="end" fill="#222222">5</text>
<text x="208.0" y="267.5" font-size="16.4" text-anchor="middle" fill="#222222">Roundtrips</text>
<text x="39.5" y="127.0" font-size="16.3" text-anchor="middle" transform="rotate(-90 39.5 127.0)" fill="#222222">Time (ps)</text>
<text x="417.5" y="28.8" font-size="14" text-anchor="end" fill="#222222">-5</text>
<text x="417.5" y="131.8" font-size="14" text-anchor="end" fill="#222222">0</text>
<text x="417.5" y="234.8" font-size="14" text-anchor="end" fill="#222222">5</text>
<text x="567.5" y="267.5" font-size="16.4" text-anchor="middle" fill="#222222">Roundtrips</text>
<text x="399.5" y="127.0" font-size="16.3" text-anchor="middle" transform="rotate(-90 399.5 127.0)" fill="#222222">Time (ps)</text>
<text x="57.5" y="330.8" font-size="14" text-anchor="end" fill="#222222">1550</text>
<text x="57.5" y="382.3" font-size="14" text-anchor="end" fill="#222222">1555</text>
<text x="57.5" y="433.8" font-size="14" text-anchor="end" fill="#222222">1560</text>
<text x="57.5" y="485.3" font-size="14" text-anchor="end" fill="#222222">1565</text>
<text x="57.5" y="536.8" font-size="14" text-anchor="end" fill="#222222">1570</text>
<text x="208.0" y="569.5" font-size="16.4" text-anchor="middle" fill="#222222">Roundtrips</text>
<text x="23.5" y="429.0" font-size="16.4" text-anchor="middle" transform="rotate(-90 23.5 429.0)" fill="#222222">Wavelength (nm)</text>
<text x="417.5" y="330.8" font-size="14" text-anchor="end" fill="#222222">1550</text>
<text x="417.5" y="382.3" font-size="14" text-anchor="end" fill="#222222">1555</text>
<text x="417.5" y="433.8" font-size="14" text-anchor="end" fill="#222222">1560</text>
<text x="417.5" y="485.3" font-size="14" text-anchor="end" fill="#222222">1565</text>
<text x="417.5" y="536.8" font-size="14" text-anchor="end" fill="#222222">1570</text>
<text x="567.5" y="569.5" font-size="16.4" text-anchor="middle" fill="#222222">Roundtrips</text>
<text x="383.5" y="429.0" font-size="16.4" text-anchor="middle" transform="rotate(-90 383.5 429.0)" fill="#222222">Wavelength (nm)</text>
<text x="5.5" y="18.5" font-size="16" text-anchor="start" font-weight="bold" stroke="#222222" stroke-width="0.45" fill="#222222">(a)</text>
<text x="364.5" y="18.5" font-size="16" text-anchor="start" font-weight="bold" stroke="#222222" stroke-width="0.45" fill="#222222">(b)</text>
<text x="5.5" y="320.5" font-size="16" text-anchor="start" font-weight="bold" stroke="#222222" stroke-width="0.45" fill="#222222">(c)</text>
<text x="364.5" y="320.5" font-size="16" text-anchor="start" font-weight="bold" stroke="#222222" stroke-width="0.45" fill="#222222">(d)</text>
<path d="M780.5 120.5 L785.9 120.4 L789.0 119.4 L791.5 120.3 L792.9 120.5 L806.6 120.5 L810.1 119.4 L812.5 120.3 L813.8 120.5 L827.6 120.5 L831.1 119.4 L834.5 120.5 L844.9 120.4 L847.7 120.0 L851.4 118.1 L854.8 118.0 L856.2 117.0 L857.8 114.6 L859.2 110.9 L860.5 105.8 L861.6 99.1 L863.7 81.3 L867.4 38.1 L868.4 31.2 L868.8 29.6 L869.2 29.0 L869.7 29.6 L870.1 31.2 L871.1 38.1 L874.8 81.3 L876.9 99.1 L878.0 105.8 L879.3 110.9 L880.7 114.6 L882.3 117.0 L883.7 118.0 L887.1 118.1 L890.9 120.0 L893.9 120.4 L911.7 120.5 L912.8 120.3 L915.2 119.4 L918.7 120.5 L932.5 120.5 L933.8 120.3 L936.3 119.4 L939.7 120.5 L953.4 120.5 L954.9 120.3 L956.9 119.4 L958.0 119.5" fill="none" stroke="#3a8f5a" stroke-width="1.2" stroke-linejoin="round"/>
<rect x="780.5" y="29" width="177.5" height="91.5" fill="none" stroke="#4a4a4a" stroke-width="1.3"/>
<path d="M1013.0 120.5 L1014.7 120.5 L1015.1 120.1 L1016.1 114.1 L1017.0 119.8 L1017.7 120.5 L1018.2 119.3 L1018.7 120.5 L1019.2 118.6 L1019.7 120.1 L1020.2 117.7 L1020.6 120.0 L1021.2 113.5 L1022.0 107.6 L1022.6 118.1 L1023.1 114.0 L1023.5 115.4 L1023.6 115.0 L1024.2 108.7 L1024.3 108.5 L1024.6 108.8 L1024.9 107.9 L1025.5 113.2 L1025.6 113.4 L1025.9 112.8 L1026.0 113.3 L1026.5 118.9 L1027.6 76.3 L1028.6 116.5 L1029.0 112.3 L1029.8 109.3 L1030.3 117.9 L1030.5 118.7 L1030.6 117.8 L1031.2 104.7 L1031.8 72.4 L1032.5 106.6 L1032.9 112.8 L1033.1 113.3 L1033.3 112.9 L1033.7 107.8 L1034.3 116.7 L1034.4 117.2 L1034.5 116.9 L1034.7 115.1 L1035.1 106.1 L1035.8 76.2 L1036.4 107.9 L1036.9 114.6 L1037.1 114.9 L1037.2 114.1 L1037.7 106.7 L1038.1 111.2 L1038.2 111.5 L1038.3 110.7 L1039.2 81.3 L1040.3 112.1 L1041.0 115.7 L1041.6 108.8 L1042.2 114.0 L1042.9 116.6 L1043.4 113.9 L1043.7 109.0 L1044.9 66.9 L1045.3 67.5 L1045.7 69.5 L1048.0 89.5 L1049.7 98.0 L1050.7 100.8 L1052.0 102.5 L1053.4 103.0 L1055.1 102.4 L1056.8 100.8 L1058.8 98.2 L1061.0 94.7 L1063.3 90.4 L1067.8 80.4 L1079.6 51.6 L1083.3 44.1 L1086.7 38.3 L1090.6 33.4 L1092.5 31.7 L1094.5 30.4 L1096.5 29.5 L1098.6 29.0 L1104.0 29.0 L1105.8 29.2 L1107.7 29.9 L1111.2 32.0 L1114.6 35.5 L1118.0 40.5 L1121.0 46.0 L1124.3 53.0 L1135.3 79.9 L1139.7 89.7 L1142.0 94.3 L1144.2 97.9 L1146.2 100.5 L1148.1 102.2 L1149.8 103.0 L1150.6 102.9 L1151.3 102.5 L1152.5 100.9 L1153.6 98.0 L1155.3 89.5 L1157.6 69.5 L1158.0 67.5 L1158.4 66.9 L1159.7 111.8 L1160.0 114.5 L1160.2 114.9 L1160.6 115.2 L1161.0 117.1 L1161.7 111.0 L1162.0 110.1 L1162.4 107.9 L1162.8 111.5 L1163.0 110.7 L1163.7 76.5 L1165.0 117.3 L1166.0 109.8 L1167.2 85.5 L1167.9 106.3 L1168.0 107.1 L1168.1 107.2 L1168.3 106.9 L1168.4 107.7 L1168.8 116.3 L1169.1 117.2 L1169.6 114.0 L1169.8 111.5 L1170.7 77.3 L1171.8 112.8 L1172.4 95.9 L1173.2 112.3 L1173.5 115.9 L1173.6 116.4 L1173.7 116.0 L1175.1 86.2 L1175.8 108.0 L1175.9 108.7 L1176.2 108.3 L1176.2 108.6 L1176.7 114.3 L1177.1 115.6 L1177.5 118.9 L1178.2 111.8 L1178.6 114.6 L1179.2 110.7 L1179.6 112.6 L1180.1 111.5 L1180.5 116.6 L1180.7 116.8 L1181.0 115.9 L1181.5 120.0 L1182.1 115.1 L1182.5 118.1 L1182.9 116.8 L1183.0 117.0 L1183.5 120.4 L1184.0 118.4 L1184.4 120.5 L1184.9 119.2 L1185.3 119.7 L1186.2 113.0 L1187.2 120.2 L1187.7 120.5 L1190.3 120.5" fill="none" stroke="#e02020" stroke-width="1.2" stroke-linejoin="round"/>
<rect x="1013" y="29" width="177.29999999999995" height="91.5" fill="none" stroke="#4a4a4a" stroke-width="1.3"/>
<text x="775.0" y="126.0" font-size="14" text-anchor="end" fill="#222222">0</text>
<path d="M780.5 120.5 h2 M958 120.5 h-2" stroke="#4a4a4a" stroke-width="1"/>
<text x="775.0" y="80.25" font-size="14" text-anchor="end" fill="#222222">0.5</text>
<path d="M780.5 74.75 h2 M958 74.75 h-2" stroke="#4a4a4a" stroke-width="1"/>
<text x="775.0" y="34.5" font-size="14" text-anchor="end" fill="#222222">1</text>
<path d="M780.5 29.0 h2 M958 29.0 h-2" stroke="#4a4a4a" stroke-width="1"/>
<text x="751.0" y="74.75" font-size="16" text-anchor="middle" transform="rotate(-90 751.0 74.75)" fill="#222222">I (a. u.)</text>
<text x="950" y="45.8" font-size="16" text-anchor="end" fill="#222222">992th</text>
<text x="1007.5" y="126.0" font-size="14" text-anchor="end" fill="#222222">0</text>
<path d="M1013 120.5 h2 M1190.3 120.5 h-2" stroke="#4a4a4a" stroke-width="1"/>
<text x="1007.5" y="80.25" font-size="14" text-anchor="end" fill="#222222">0.5</text>
<path d="M1013 74.75 h2 M1190.3 74.75 h-2" stroke="#4a4a4a" stroke-width="1"/>
<text x="1007.5" y="34.5" font-size="14" text-anchor="end" fill="#222222">1</text>
<path d="M1013 29.0 h2 M1190.3 29.0 h-2" stroke="#4a4a4a" stroke-width="1"/>
<text x="983.5" y="74.75" font-size="16" text-anchor="middle" transform="rotate(-90 983.5 74.75)" fill="#222222">I (a. u.)</text>
<text x="1182.3" y="45.8" font-size="16" text-anchor="end" fill="#222222">992th</text>
<text x="780.5" y="139.1" font-size="14" text-anchor="middle" fill="#222222">-5</text>
<path d="M780.5 120.5 v-2 M780.5 29 v2" stroke="#4a4a4a" stroke-width="1"/>
<text x="869.25" y="139.1" font-size="14" text-anchor="middle" fill="#222222">0</text>
<path d="M869.25 120.5 v-2 M869.25 29 v2" stroke="#4a4a4a" stroke-width="1"/>
<text x="958.0" y="139.1" font-size="14" text-anchor="middle" fill="#222222">5</text>
<path d="M958.0 120.5 v-2 M958.0 29 v2" stroke="#4a4a4a" stroke-width="1"/>
<text x="1013.0" y="139.1" font-size="14" text-anchor="middle" fill="#222222">1550</text>
<path d="M1013.0 120.5 v-2 M1013.0 29 v2" stroke="#4a4a4a" stroke-width="1"/>
<text x="1057.325" y="139.1" font-size="14" text-anchor="middle" fill="#222222">1555</text>
<path d="M1057.325 120.5 v-2 M1057.325 29 v2" stroke="#4a4a4a" stroke-width="1"/>
<text x="1101.65" y="139.1" font-size="14" text-anchor="middle" fill="#222222">1560</text>
<path d="M1101.65 120.5 v-2 M1101.65 29 v2" stroke="#4a4a4a" stroke-width="1"/>
<text x="1145.975" y="139.1" font-size="14" text-anchor="middle" fill="#222222">1565</text>
<path d="M1145.975 120.5 v-2 M1145.975 29 v2" stroke="#4a4a4a" stroke-width="1"/>
<text x="1190.3" y="139.1" font-size="14" text-anchor="middle" fill="#222222">1570</text>
<path d="M1190.3 120.5 v-2 M1190.3 29 v2" stroke="#4a4a4a" stroke-width="1"/>
<text x="748.5" y="28.7" font-size="16" text-anchor="start" font-weight="bold" stroke="#222222" stroke-width="0.45" fill="#222222">(e)</text>
<text x="981" y="28.7" font-size="16" text-anchor="start" font-weight="bold" stroke="#222222" stroke-width="0.45" fill="#222222">(i)</text>
<path d="M780.5 256.0 L785.9 255.9 L789.0 254.9 L791.5 255.8 L792.8 256.0 L806.6 256.0 L810.1 254.9 L812.5 255.8 L813.7 256.0 L827.6 256.0 L831.1 254.9 L834.3 256.0 L841.3 255.9 L842.8 255.7 L844.0 255.1 L847.7 251.4 L850.1 250.8 L851.0 250.3 L851.9 248.7 L852.9 245.8 L854.8 236.6 L856.6 223.9 L860.7 189.4 L863.1 174.7 L864.4 169.8 L865.7 166.6 L867.1 165.0 L868.0 164.6 L869.1 164.5 L871.2 164.8 L872.7 166.4 L874.0 169.5 L875.4 174.7 L877.8 189.4 L881.9 223.9 L883.7 236.6 L885.6 245.8 L886.6 248.7 L887.5 250.3 L888.4 250.8 L890.8 251.4 L894.6 255.1 L895.9 255.7 L897.4 255.9 L911.8 256.0 L912.8 255.8 L915.2 254.9 L918.7 256.0 L932.5 256.0 L933.8 255.8 L936.3 254.9 L939.7 256.0 L953.4 256.0 L954.9 255.8 L956.9 254.9 L958.0 255.0" fill="none" stroke="#3a8f5a" stroke-width="1.2" stroke-linejoin="round"/>
<rect x="780.5" y="164.5" width="177.5" height="91.5" fill="none" stroke="#4a4a4a" stroke-width="1.3"/>
<path d="M1013.0 256.0 L1013.5 255.2 L1014.3 250.7 L1015.2 255.3 L1016.1 248.9 L1017.0 255.2 L1018.1 252.0 L1018.7 255.6 L1019.2 253.8 L1019.6 254.4 L1020.1 250.7 L1020.7 254.8 L1021.2 251.7 L1021.6 254.6 L1022.1 252.1 L1022.6 255.0 L1023.1 250.4 L1023.6 253.3 L1024.0 251.5 L1024.6 255.5 L1025.5 246.7 L1026.0 236.1 L1026.7 250.2 L1027.1 249.3 L1027.4 250.9 L1027.9 248.7 L1028.4 251.4 L1029.0 240.6 L1029.6 246.7 L1030.1 239.6 L1031.0 248.2 L1031.8 241.4 L1032.3 250.5 L1032.9 237.9 L1033.6 244.7 L1033.9 239.2 L1034.0 238.3 L1034.1 238.5 L1035.2 251.1 L1035.9 234.1 L1037.1 252.7 L1037.7 247.3 L1038.2 253.0 L1038.4 253.2 L1038.7 252.2 L1039.1 253.8 L1039.7 247.4 L1040.2 252.5 L1040.6 252.0 L1041.1 254.5 L1041.6 249.5 L1042.1 253.6 L1042.9 255.4 L1043.3 253.6 L1043.5 249.6 L1044.5 220.8 L1045.6 242.9 L1046.1 247.7 L1046.6 251.0 L1047.4 253.1 L1048.6 254.5 L1050.4 255.2 L1053.3 255.6 L1056.7 249.2 L1060.2 240.5 L1064.0 229.4 L1075.3 194.1 L1079.0 184.3 L1082.6 176.8 L1084.7 173.3 L1086.8 170.5 L1089.0 168.2 L1091.3 166.6 L1093.6 165.5 L1096.2 164.8 L1098.9 164.5 L1103.3 164.5 L1106.4 164.7 L1108.9 165.2 L1111.2 166.1 L1113.4 167.5 L1115.5 169.4 L1117.5 171.8 L1119.5 174.8 L1121.5 178.3 L1124.8 185.7 L1128.4 195.1 L1139.1 229.0 L1142.9 240.0 L1146.6 249.0 L1150.0 255.6 L1152.9 255.2 L1154.7 254.5 L1155.9 253.1 L1156.7 251.0 L1157.2 247.7 L1157.7 242.9 L1158.8 220.8 L1159.8 251.3 L1160.2 254.1 L1160.3 254.4 L1160.6 254.3 L1161.0 255.7 L1161.6 251.1 L1161.8 250.9 L1162.0 251.3 L1162.4 249.0 L1163.0 255.4 L1163.6 250.3 L1164.0 250.8 L1164.4 247.9 L1164.9 249.3 L1165.5 235.6 L1166.0 244.1 L1166.4 246.5 L1166.5 246.4 L1166.7 246.8 L1166.9 246.3 L1167.3 239.8 L1168.0 248.2 L1168.4 242.8 L1169.1 239.6 L1169.8 250.2 L1170.5 241.3 L1171.7 252.2 L1172.3 237.4 L1173.5 252.3 L1174.3 238.5 L1174.9 248.8 L1175.5 253.6 L1176.4 235.1 L1177.6 254.6 L1178.2 247.6 L1178.3 247.5 L1178.6 248.0 L1179.0 247.1 L1179.6 254.9 L1180.1 251.0 L1180.6 253.6 L1181.1 250.4 L1181.6 253.4 L1182.1 251.2 L1182.5 254.9 L1183.0 252.9 L1183.5 255.4 L1184.0 252.4 L1184.6 255.0 L1185.2 253.4 L1185.9 248.3 L1186.9 255.7 L1187.6 256.0 L1188.5 255.3 L1189.4 255.9 L1190.3 256.0" fill="none" stroke="#e02020" stroke-width="1.2" stroke-linejoin="round"/>
<rect x="1013" y="164.5" width="177.29999999999995" height="91.5" fill="none" stroke="#4a4a4a" stroke-width="1.3"/>
<text x="775.0" y="261.5" font-size="14" text-anchor="end" fill="#222222">0</text>
<path d="M780.5 256.0 h2 M958 256.0 h-2" stroke="#4a4a4a" stroke-width="1"/>
<text x="775.0" y="215.75" font-size="14" text-anchor="end" fill="#222222">0.5</text>
<path d="M780.5 210.25 h2 M958 210.25 h-2" stroke="#4a4a4a" stroke-width="1"/>
<text x="775.0" y="170.0" font-size="14" text-anchor="end" fill="#222222">1</text>
<path d="M780.5 164.5 h2 M958 164.5 h-2" stroke="#4a4a4a" stroke-width="1"/>
<text x="751.0" y="210.25" font-size="16" text-anchor="middle" transform="rotate(-90 751.0 210.25)" fill="#222222">I (a. u.)</text>
<text x="950" y="181.3" font-size="16" text-anchor="end" fill="#222222">993th</text>
<text x="1007.5" y="261.5" font-size="14" text-anchor="end" fill="#222222">0</text>
<path d="M1013 256.0 h2 M1190.3 256.0 h-2" stroke="#4a4a4a" stroke-width="1"/>
<text x="1007.5" y="215.75" font-size="14" text-anchor="end" fill="#222222">0.5</text>
<path d="M1013 210.25 h2 M1190.3 210.25 h-2" stroke="#4a4a4a" stroke-width="1"/>
<text x="1007.5" y="170.0" font-size="14" text-anchor="end" fill="#222222">1</text>
<path d="M1013 164.5 h2 M1190.3 164.5 h-2" stroke="#4a4a4a" stroke-width="1"/>
<text x="983.5" y="210.25" font-size="16" text-anchor="middle" transform="rotate(-90 983.5 210.25)" fill="#222222">I (a. u.)</text>
<text x="1182.3" y="181.3" font-size="16" text-anchor="end" fill="#222222">993th</text>
<text x="780.5" y="274.6" font-size="14" text-anchor="middle" fill="#222222">-5</text>
<path d="M780.5 256.0 v-2 M780.5 164.5 v2" stroke="#4a4a4a" stroke-width="1"/>
<text x="869.25" y="274.6" font-size="14" text-anchor="middle" fill="#222222">0</text>
<path d="M869.25 256.0 v-2 M869.25 164.5 v2" stroke="#4a4a4a" stroke-width="1"/>
<text x="958.0" y="274.6" font-size="14" text-anchor="middle" fill="#222222">5</text>
<path d="M958.0 256.0 v-2 M958.0 164.5 v2" stroke="#4a4a4a" stroke-width="1"/>
<text x="1013.0" y="274.6" font-size="14" text-anchor="middle" fill="#222222">1550</text>
<path d="M1013.0 256.0 v-2 M1013.0 164.5 v2" stroke="#4a4a4a" stroke-width="1"/>
<text x="1057.325" y="274.6" font-size="14" text-anchor="middle" fill="#222222">1555</text>
<path d="M1057.325 256.0 v-2 M1057.325 164.5 v2" stroke="#4a4a4a" stroke-width="1"/>
<text x="1101.65" y="274.6" font-size="14" text-anchor="middle" fill="#222222">1560</text>
<path d="M1101.65 256.0 v-2 M1101.65 164.5 v2" stroke="#4a4a4a" stroke-width="1"/>
<text x="1145.975" y="274.6" font-size="14" text-anchor="middle" fill="#222222">1565</text>
<path d="M1145.975 256.0 v-2 M1145.975 164.5 v2" stroke="#4a4a4a" stroke-width="1"/>
<text x="1190.3" y="274.6" font-size="14" text-anchor="middle" fill="#222222">1570</text>
<path d="M1190.3 256.0 v-2 M1190.3 164.5 v2" stroke="#4a4a4a" stroke-width="1"/>
<text x="748.5" y="164.2" font-size="16" text-anchor="start" font-weight="bold" stroke="#222222" stroke-width="0.45" fill="#222222">(f)</text>
<text x="981" y="164.2" font-size="16" text-anchor="start" font-weight="bold" stroke="#222222" stroke-width="0.45" fill="#222222">(j)</text>
<path d="M780.5 393.1 L785.9 393.0 L789.0 392.0 L791.5 392.9 L792.9 393.1 L806.6 393.1 L810.1 392.0 L812.5 392.9 L813.8 393.1 L827.6 393.1 L831.1 392.0 L834.5 393.1 L844.9 393.0 L847.7 392.6 L851.4 390.7 L854.8 390.6 L856.2 389.6 L857.8 387.2 L859.2 383.5 L860.5 378.4 L861.6 371.7 L863.7 353.9 L867.4 310.7 L868.4 303.8 L868.8 302.2 L869.2 301.6 L869.7 302.2 L870.1 303.8 L871.1 310.7 L874.8 353.9 L876.9 371.7 L878.0 378.4 L879.3 383.5 L880.7 387.2 L882.3 389.6 L883.7 390.6 L887.1 390.7 L890.9 392.6 L893.9 393.0 L911.7 393.1 L912.8 392.9 L915.2 392.0 L918.7 393.1 L932.5 393.1 L933.8 392.9 L936.3 392.0 L939.7 393.1 L953.4 393.1 L954.9 392.9 L956.9 392.0 L958.0 392.1" fill="none" stroke="#3a8f5a" stroke-width="1.2" stroke-linejoin="round"/>
<rect x="780.5" y="301.6" width="177.5" height="91.5" fill="none" stroke="#4a4a4a" stroke-width="1.3"/>
<path d="M1013.0 393.1 L1015.0 393.0 L1016.0 390.6 L1016.9 392.8 L1017.3 392.6 L1017.7 393.1 L1018.2 391.9 L1018.7 393.1 L1019.2 391.2 L1019.7 392.7 L1020.2 390.3 L1020.6 392.8 L1021.2 388.3 L1021.6 390.9 L1022.1 387.6 L1022.2 387.5 L1022.5 388.0 L1023.1 383.3 L1023.5 388.3 L1023.7 388.6 L1023.9 387.8 L1024.0 387.9 L1024.6 392.4 L1025.1 385.9 L1025.5 387.1 L1026.3 384.1 L1027.0 365.6 L1027.5 378.3 L1028.1 357.7 L1029.1 382.4 L1029.4 384.4 L1029.8 382.7 L1029.9 383.1 L1030.5 391.6 L1031.4 383.5 L1032.5 354.4 L1033.3 380.6 L1033.4 381.8 L1033.7 380.9 L1033.8 381.4 L1034.5 390.0 L1035.2 383.4 L1036.0 353.8 L1037.1 386.6 L1037.7 380.0 L1038.1 383.2 L1038.3 382.5 L1039.1 356.3 L1040.3 385.3 L1041.1 388.0 L1041.6 381.5 L1042.2 386.4 L1042.9 388.7 L1043.4 386.7 L1043.7 383.3 L1044.9 354.1 L1045.4 356.4 L1046.9 370.9 L1047.8 376.2 L1048.5 378.0 L1049.4 379.0 L1050.5 379.1 L1051.8 378.3 L1053.3 376.6 L1055.0 374.1 L1058.9 366.6 L1063.0 357.0 L1075.1 326.4 L1079.1 317.9 L1082.9 311.6 L1085.0 308.7 L1087.2 306.3 L1089.5 304.5 L1091.9 303.1 L1094.2 302.3 L1096.8 301.8 L1104.3 301.6 L1107.1 301.8 L1109.5 302.4 L1111.7 303.3 L1113.8 304.5 L1115.9 306.2 L1117.9 308.2 L1121.8 313.7 L1125.2 319.8 L1128.8 327.7 L1140.0 356.3 L1144.0 365.8 L1147.9 373.5 L1149.7 376.2 L1151.2 378.0 L1152.6 379.0 L1153.7 379.0 L1154.7 378.2 L1155.4 376.3 L1156.4 371.3 L1157.9 356.4 L1158.4 354.1 L1159.7 385.3 L1160.0 386.9 L1160.2 387.2 L1160.6 387.2 L1161.0 389.2 L1161.6 383.8 L1162.0 382.8 L1162.2 381.0 L1163.4 355.4 L1164.0 377.2 L1164.5 381.7 L1164.9 389.3 L1165.0 390.1 L1165.1 389.8 L1165.9 381.1 L1166.7 353.0 L1167.7 383.1 L1167.9 384.3 L1168.4 381.1 L1169.0 389.9 L1169.6 381.3 L1170.4 352.3 L1171.2 385.4 L1171.7 388.6 L1172.3 381.3 L1172.8 388.2 L1173.0 388.8 L1173.4 386.6 L1173.6 383.3 L1174.3 345.5 L1175.1 380.2 L1175.6 390.4 L1177.0 366.4 L1177.7 386.2 L1177.8 386.4 L1178.2 384.6 L1178.6 388.3 L1178.7 388.7 L1179.0 388.2 L1179.1 388.4 L1179.5 392.1 L1180.2 383.4 L1181.0 385.7 L1181.5 392.5 L1182.1 388.6 L1182.5 391.6 L1183.0 389.9 L1183.5 393.0 L1183.9 391.1 L1184.5 393.1 L1184.9 391.6 L1185.4 391.8 L1185.9 390.0 L1186.4 392.2 L1186.9 393.0 L1190.3 393.1" fill="none" stroke="#e02020" stroke-width="1.2" stroke-linejoin="round"/>
<rect x="1013" y="301.6" width="177.29999999999995" height="91.5" fill="none" stroke="#4a4a4a" stroke-width="1.3"/>
<text x="775.0" y="398.6" font-size="14" text-anchor="end" fill="#222222">0</text>
<path d="M780.5 393.1 h2 M958 393.1 h-2" stroke="#4a4a4a" stroke-width="1"/>
<text x="775.0" y="352.85" font-size="14" text-anchor="end" fill="#222222">0.5</text>
<path d="M780.5 347.35 h2 M958 347.35 h-2" stroke="#4a4a4a" stroke-width="1"/>
<text x="775.0" y="307.1" font-size="14" text-anchor="end" fill="#222222">1</text>
<path d="M780.5 301.6 h2 M958 301.6 h-2" stroke="#4a4a4a" stroke-width="1"/>
<text x="751.0" y="347.35" font-size="16" text-anchor="middle" transform="rotate(-90 751.0 347.35)" fill="#222222">I (a. u.)</text>
<text x="950" y="318.40000000000003" font-size="16" text-anchor="end" fill="#222222">994th</text>
<text x="1007.5" y="398.6" font-size="14" text-anchor="end" fill="#222222">0</text>
<path d="M1013 393.1 h2 M1190.3 393.1 h-2" stroke="#4a4a4a" stroke-width="1"/>
<text x="1007.5" y="352.85" font-size="14" text-anchor="end" fill="#222222">0.5</text>
<path d="M1013 347.35 h2 M1190.3 347.35 h-2" stroke="#4a4a4a" stroke-width="1"/>
<text x="1007.5" y="307.1" font-size="14" text-anchor="end" fill="#222222">1</text>
<path d="M1013 301.6 h2 M1190.3 301.6 h-2" stroke="#4a4a4a" stroke-width="1"/>
<text x="983.5" y="347.35" font-size="16" text-anchor="middle" transform="rotate(-90 983.5 347.35)" fill="#222222">I (a. u.)</text>
<text x="1182.3" y="318.40000000000003" font-size="16" text-anchor="end" fill="#222222">994th</text>
<text x="780.5" y="411.70000000000005" font-size="14" text-anchor="middle" fill="#222222">-5</text>
<path d="M780.5 393.1 v-2 M780.5 301.6 v2" stroke="#4a4a4a" stroke-width="1"/>
<text x="869.25" y="411.70000000000005" font-size="14" text-anchor="middle" fill="#222222">0</text>
<path d="M869.25 393.1 v-2 M869.25 301.6 v2" stroke="#4a4a4a" stroke-width="1"/>
<text x="958.0" y="411.70000000000005" font-size="14" text-anchor="middle" fill="#222222">5</text>
<path d="M958.0 393.1 v-2 M958.0 301.6 v2" stroke="#4a4a4a" stroke-width="1"/>
<text x="1013.0" y="411.70000000000005" font-size="14" text-anchor="middle" fill="#222222">1550</text>
<path d="M1013.0 393.1 v-2 M1013.0 301.6 v2" stroke="#4a4a4a" stroke-width="1"/>
<text x="1057.325" y="411.70000000000005" font-size="14" text-anchor="middle" fill="#222222">1555</text>
<path d="M1057.325 393.1 v-2 M1057.325 301.6 v2" stroke="#4a4a4a" stroke-width="1"/>
<text x="1101.65" y="411.70000000000005" font-size="14" text-anchor="middle" fill="#222222">1560</text>
<path d="M1101.65 393.1 v-2 M1101.65 301.6 v2" stroke="#4a4a4a" stroke-width="1"/>
<text x="1145.975" y="411.70000000000005" font-size="14" text-anchor="middle" fill="#222222">1565</text>
<path d="M1145.975 393.1 v-2 M1145.975 301.6 v2" stroke="#4a4a4a" stroke-width="1"/>
<text x="1190.3" y="411.70000000000005" font-size="14" text-anchor="middle" fill="#222222">1570</text>
<path d="M1190.3 393.1 v-2 M1190.3 301.6 v2" stroke="#4a4a4a" stroke-width="1"/>
<text x="748.5" y="301.3" font-size="16" text-anchor="start" font-weight="bold" stroke="#222222" stroke-width="0.45" fill="#222222">(g)</text>
<text x="981" y="301.3" font-size="16" text-anchor="start" font-weight="bold" stroke="#222222" stroke-width="0.45" fill="#222222">(k)</text>
<path d="M780.5 531.3 L785.9 531.2 L789.0 530.2 L791.5 531.1 L792.8 531.3 L806.6 531.3 L810.1 530.2 L812.5 531.1 L813.7 531.3 L827.6 531.3 L831.1 530.2 L833.5 531.0 L834.7 531.1 L838.0 530.6 L840.0 529.3 L841.1 527.7 L844.2 522.0 L845.2 521.2 L847.4 520.6 L848.6 519.4 L850.0 516.4 L851.6 511.3 L853.5 503.2 L855.5 493.3 L862.1 452.6 L864.6 439.8 L867.9 439.8 L868.7 442.7 L869.2 443.5 L869.8 442.7 L870.6 439.8 L873.9 439.8 L876.4 452.6 L883.0 493.3 L885.0 503.6 L887.0 511.6 L888.5 516.4 L889.9 519.4 L891.1 520.6 L893.2 521.2 L894.2 521.9 L895.2 523.3 L897.5 527.8 L898.7 529.5 L900.0 530.4 L901.6 530.8 L908.3 531.3 L912.3 531.2 L915.2 530.2 L917.9 531.2 L919.6 531.3 L932.9 531.3 L936.3 530.2 L939.7 531.3 L953.6 531.3 L954.9 531.1 L956.9 530.2 L958.0 530.3" fill="none" stroke="#3a8f5a" stroke-width="1.2" stroke-linejoin="round"/>
<rect x="780.5" y="439.8" width="177.5" height="91.5" fill="none" stroke="#4a4a4a" stroke-width="1.3"/>
<path d="M1013.0 531.3 L1013.9 531.2 L1014.3 530.6 L1015.2 522.1 L1016.1 530.6 L1017.0 526.4 L1017.8 530.6 L1018.3 527.6 L1018.8 528.9 L1019.1 528.7 L1019.2 528.8 L1019.6 531.0 L1020.2 528.4 L1020.6 530.4 L1021.2 526.0 L1021.6 529.4 L1022.1 527.4 L1022.6 530.9 L1023.2 525.9 L1023.6 528.3 L1024.0 526.6 L1024.6 530.8 L1025.0 525.4 L1025.5 523.5 L1026.1 506.6 L1027.0 519.6 L1027.7 504.2 L1028.6 528.8 L1029.3 520.8 L1029.8 510.9 L1030.4 525.9 L1030.6 527.3 L1030.7 527.0 L1031.7 509.1 L1032.5 528.3 L1033.6 513.3 L1034.5 529.0 L1035.2 524.9 L1035.9 504.0 L1037.1 527.5 L1037.7 521.7 L1038.3 528.0 L1038.4 528.1 L1038.7 527.4 L1039.1 528.9 L1039.7 521.8 L1040.2 527.0 L1040.3 527.4 L1040.6 527.2 L1041.0 529.5 L1041.6 524.1 L1042.1 528.5 L1043.0 531.0 L1043.5 529.7 L1043.8 526.6 L1044.7 500.2 L1045.1 502.5 L1046.5 519.2 L1047.1 523.0 L1047.8 525.8 L1048.8 527.9 L1050.2 529.3 L1052.2 530.2 L1055.0 530.7 L1058.4 524.2 L1061.9 515.4 L1065.7 504.1 L1076.6 468.7 L1080.2 459.0 L1083.7 451.6 L1085.7 448.2 L1087.7 445.4 L1089.8 443.3 L1092.0 441.7 L1094.2 440.7 L1096.6 440.0 L1103.7 439.8 L1106.6 440.0 L1108.9 440.6 L1111.1 441.6 L1113.1 443.0 L1115.0 444.8 L1116.9 447.2 L1120.7 453.7 L1123.8 460.8 L1127.1 470.1 L1137.4 503.6 L1141.1 514.7 L1144.8 524.0 L1148.3 530.7 L1151.1 530.2 L1153.1 529.3 L1154.5 527.9 L1155.5 525.8 L1156.2 523.0 L1156.8 519.2 L1158.2 502.5 L1158.6 500.2 L1159.4 524.8 L1159.9 530.0 L1160.2 530.1 L1160.6 529.5 L1161.0 531.0 L1161.2 530.3 L1162.0 522.7 L1162.7 506.0 L1163.7 523.2 L1164.5 508.2 L1165.1 522.6 L1165.2 524.1 L1165.5 524.6 L1166.4 508.5 L1167.1 527.0 L1167.8 524.8 L1168.4 511.2 L1169.0 522.8 L1169.6 527.0 L1170.5 514.9 L1171.7 527.1 L1172.3 521.7 L1172.8 528.0 L1173.0 528.1 L1173.2 527.4 L1173.6 528.9 L1174.2 521.9 L1174.8 527.2 L1175.4 524.0 L1176.2 500.0 L1176.8 522.3 L1177.5 529.2 L1178.2 518.1 L1179.6 530.7 L1180.1 526.0 L1180.6 528.3 L1181.1 524.1 L1181.6 526.6 L1181.9 525.4 L1182.1 525.7 L1182.5 530.0 L1183.0 528.1 L1183.5 531.2 L1184.0 529.2 L1184.5 531.3 L1185.2 528.0 L1185.9 521.4 L1186.9 530.9 L1187.3 531.3 L1190.3 531.3" fill="none" stroke="#e02020" stroke-width="1.2" stroke-linejoin="round"/>
<rect x="1013" y="439.8" width="177.29999999999995" height="91.5" fill="none" stroke="#4a4a4a" stroke-width="1.3"/>
<text x="775.0" y="536.8" font-size="14" text-anchor="end" fill="#222222">0</text>
<path d="M780.5 531.3 h2 M958 531.3 h-2" stroke="#4a4a4a" stroke-width="1"/>
<text x="775.0" y="491.04999999999995" font-size="14" text-anchor="end" fill="#222222">0.5</text>
<path d="M780.5 485.54999999999995 h2 M958 485.54999999999995 h-2" stroke="#4a4a4a" stroke-width="1"/>
<text x="775.0" y="445.29999999999995" font-size="14" text-anchor="end" fill="#222222">1</text>
<path d="M780.5 439.79999999999995 h2 M958 439.79999999999995 h-2" stroke="#4a4a4a" stroke-width="1"/>
<text x="751.0" y="485.55" font-size="16" text-anchor="middle" transform="rotate(-90 751.0 485.55)" fill="#222222">I (a. u.)</text>
<text x="950" y="456.6" font-size="16" text-anchor="end" fill="#222222">995th</text>
<text x="1007.5" y="536.8" font-size="14" text-anchor="end" fill="#222222">0</text>
<path d="M1013 531.3 h2 M1190.3 531.3 h-2" stroke="#4a4a4a" stroke-width="1"/>
<text x="1007.5" y="491.04999999999995" font-size="14" text-anchor="end" fill="#222222">0.5</text>
<path d="M1013 485.54999999999995 h2 M1190.3 485.54999999999995 h-2" stroke="#4a4a4a" stroke-width="1"/>
<text x="1007.5" y="445.29999999999995" font-size="14" text-anchor="end" fill="#222222">1</text>
<path d="M1013 439.79999999999995 h2 M1190.3 439.79999999999995 h-2" stroke="#4a4a4a" stroke-width="1"/>
<text x="983.5" y="485.55" font-size="16" text-anchor="middle" transform="rotate(-90 983.5 485.55)" fill="#222222">I (a. u.)</text>
<text x="1182.3" y="456.6" font-size="16" text-anchor="end" fill="#222222">995th</text>
<text x="780.5" y="549.9" font-size="14" text-anchor="middle" fill="#222222">-5</text>
<path d="M780.5 531.3 v-2 M780.5 439.8 v2" stroke="#4a4a4a" stroke-width="1"/>
<text x="869.25" y="549.9" font-size="14" text-anchor="middle" fill="#222222">0</text>
<path d="M869.25 531.3 v-2 M869.25 439.8 v2" stroke="#4a4a4a" stroke-width="1"/>
<text x="958.0" y="549.9" font-size="14" text-anchor="middle" fill="#222222">5</text>
<path d="M958.0 531.3 v-2 M958.0 439.8 v2" stroke="#4a4a4a" stroke-width="1"/>
<text x="1013.0" y="549.9" font-size="14" text-anchor="middle" fill="#222222">1550</text>
<path d="M1013.0 531.3 v-2 M1013.0 439.8 v2" stroke="#4a4a4a" stroke-width="1"/>
<text x="1057.325" y="549.9" font-size="14" text-anchor="middle" fill="#222222">1555</text>
<path d="M1057.325 531.3 v-2 M1057.325 439.8 v2" stroke="#4a4a4a" stroke-width="1"/>
<text x="1101.65" y="549.9" font-size="14" text-anchor="middle" fill="#222222">1560</text>
<path d="M1101.65 531.3 v-2 M1101.65 439.8 v2" stroke="#4a4a4a" stroke-width="1"/>
<text x="1145.975" y="549.9" font-size="14" text-anchor="middle" fill="#222222">1565</text>
<path d="M1145.975 531.3 v-2 M1145.975 439.8 v2" stroke="#4a4a4a" stroke-width="1"/>
<text x="1190.3" y="549.9" font-size="14" text-anchor="middle" fill="#222222">1570</text>
<path d="M1190.3 531.3 v-2 M1190.3 439.8 v2" stroke="#4a4a4a" stroke-width="1"/>
<text x="748.5" y="439.5" font-size="16" text-anchor="start" font-weight="bold" stroke="#222222" stroke-width="0.45" fill="#222222">(h)</text>
<text x="981" y="439.5" font-size="16" text-anchor="start" font-weight="bold" stroke="#222222" stroke-width="0.45" fill="#222222">(l)</text>
<text x="869.25" y="569.5" font-size="16.3" text-anchor="middle" fill="#222222">Time (ps)</text>
<text x="1101.65" y="569.5" font-size="16.4" text-anchor="middle" fill="#222222">Wavelength (nm)</text>
</svg></body></html>
